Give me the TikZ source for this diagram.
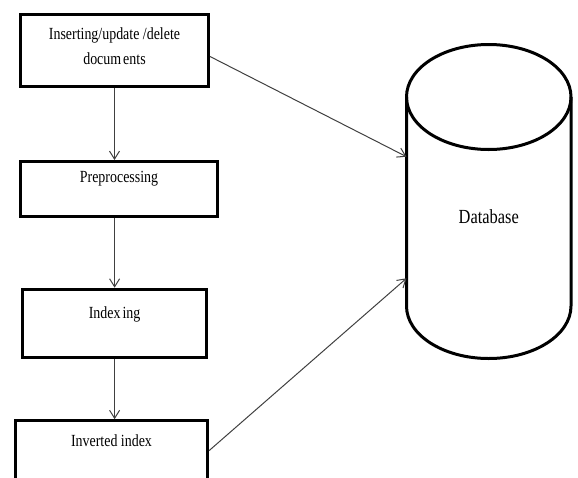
\documentclass[tikz,border=0pt]{standalone}
\usepackage{fontspec}
\setmainfont{Liberation Serif}[FakeStretch=0.82]
\usepackage{tikz}
\usetikzlibrary{positioning,arrows.meta}

\begin{document}
\begin{tikzpicture}[x=1pt,y=-1pt,
  stepbox/.style={draw=black,line width=3pt,inner xsep=0pt,inner ysep=0pt,
    font=\fontsize{17}{25}\selectfont,align=center},
  flowline/.style={draw=black!75,line width=1pt,-{Straight Barb[length=8pt,width=10pt]}},
  dbline/.style={draw=black,line width=3pt}]
\useasboundingbox (0,0) rectangle (578,477);
\clip (0,0) rectangle (578,477);
%the nodes
\node [stepbox,minimum width=188pt,minimum height=72pt,text depth=8pt] (flowDocs) at (114.5,50.5) {Inserting/update /delete\\docum\kern2pt ents};
\node [stepbox,minimum width=197pt,text height=20.5pt,text depth=34.5pt,below=72pt of flowDocs,xshift=4.5pt] (flowPrep) {Preprocessing};
\node [stepbox,minimum width=184pt,text height=29pt,text depth=39.5pt,below=69.7pt of flowPrep,xshift=-4.4pt] (flowIndex) {Index\kern2pt ing};
\node [stepbox,minimum width=192pt,text height=25.5pt,text depth=40pt,below=60pt of flowIndex,xshift=-3.1pt] (flowInverted) {Inverted index};
\node [inner sep=0pt,outer sep=0pt,minimum width=164.5pt,minimum height=209pt,text height=46pt,text depth=2.4pt,
  font=\fontsize{20}{24}\selectfont] (flowDb) at (488.75,201.5) {Database};
%% database cylinder
\draw [dbline] (flowDb.north) ellipse [x radius=82.25pt,y radius=52.5pt];
\draw [dbline] (flowDb.north west) -- (flowDb.south west)
  arc [start angle=180,end angle=360,x radius=82.25pt,y radius=52.5pt] -- (flowDb.north east);
%drawings of lines
\draw [flowline] (flowDocs.south) -- (flowDocs.south |- flowPrep.north);
\draw [flowline] (flowIndex.north |- flowPrep.south) -- (flowIndex.north);
\draw [flowline] (flowIndex.south) -- (flowIndex.south |- flowInverted.north);

\draw [flowline] ([yshift=-6pt]flowDocs.east) -- ([yshift=-59.7pt]flowDb.north west);
\draw [flowline] ([yshift=-31.5pt]flowInverted.north east) -- ([yshift=27.7pt]flowDb.south west);
\end{tikzpicture}
\end{document}
